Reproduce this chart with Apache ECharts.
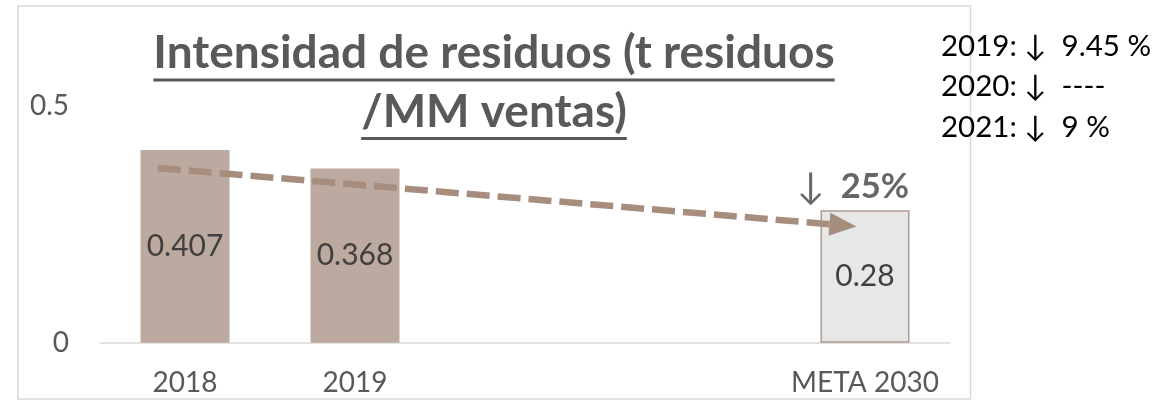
<!DOCTYPE html>
<html>
<head>
<meta charset="utf-8">
<script src="https://cdn.jsdelivr.net/npm/echarts@6/dist/echarts.min.js"></script>
<style>html,body{margin:0;padding:0;background:#fff;}#c{width:1163px;height:403px;}</style>
</head>
<body>
<div id="c"></div>
<script>
// ---- data ----
const categories = ['2018', '2019', '', '', 'META 2030'];
const values = [0.407, 0.368, null, null, 0.28];
const yMin = 0, yMax = 0.5, yInterval = 0.5;
const trendX = [-0.16, 3.87];
const trendY = [0.369, 0.248];
const goalText = '25%';
const notes = ['2019: \u2193  9.45 %', '2020: \u2193  ----', '2021: \u2193  9 %'];
const titleLines = ['Intensidad de residuos (t residuos', '/MM ventas)'];

// ---- styles ----
const FONT = 'Lato, "Noto Sans", sans-serif';
const barColor = '#bcaaa0';
const trendColor = '#a78d7e';
const titleFontSize = 46;

const mctx = document.createElement('canvas').getContext('2d');
function textW(t, font) { mctx.font = font; return mctx.measureText(t).width; }

const titleFont = 'bold ' + titleFontSize + 'px ' + FONT;
const titleCx = 494;
const titleMid = [53, 112];
const underY = [78.5, 137];
const graphics = [
  { type: 'rect', shape: { x: 18, y: 6, width: 952.5, height: 393 }, style: { fill: 'none', stroke: '#d9d9d9', lineWidth: 1.5 }, silent: true, z: -1 }
];
titleLines.forEach((t, i) => {
  const w = textW(t, titleFont);
  graphics.push({ type: 'text', style: { text: t, x: titleCx, y: titleMid[i], font: titleFont, fill: '#595959', align: 'center', verticalAlign: 'middle' } });
  graphics.push({ type: 'rect', shape: { x: titleCx - w / 2, y: underY[i], width: w, height: 3 }, style: { fill: '#595959' } });
});
notes.forEach((t, i) => {
  graphics.push({ type: 'text', style: { text: t, x: 941, y: 46 + 40.5 * i, font: '29.5px ' + FONT, fill: '#000', align: 'left', verticalAlign: 'middle' } });
});

const chart = echarts.init(document.getElementById('c'));
chart.setOption({
  animation: false,
  backgroundColor: '#fff',
  grid: { left: 100, right: 213, top: 106, bottom: 60.3 },
  xAxis: [
    {
      type: 'category', data: categories, boundaryGap: true,
      axisLine: { lineStyle: { color: '#d9d9d9', width: 1.5 } },
      axisTick: { show: false },
      axisLabel: { color: '#595959', fontSize: 28, fontFamily: FONT, margin: 26, interval: 0 }
    },
    { type: 'value', min: -0.5, max: 4.5, show: false }
  ],
  yAxis: {
    type: 'value', min: yMin, max: yMax, interval: yInterval,
    axisLine: { show: false }, axisTick: { show: false }, splitLine: { show: false },
    axisLabel: { color: '#595959', fontSize: 28, fontFamily: FONT, margin: 31 }
  },
  series: [
    {
      type: 'bar', barWidth: 89, xAxisIndex: 0,
      data: values.map((v, i) => i === values.length - 1
        ? { value: v, itemStyle: { color: '#e7e7e7', borderColor: '#ae998d', borderWidth: 1.5 } }
        : { value: v, itemStyle: { color: barColor } }),
      label: { show: true, position: 'inside', color: '#404040', fontSize: 30, fontFamily: FONT },
      emphasis: { disabled: true }
    },
    {
      type: 'scatter', xAxisIndex: 0, symbolSize: 0,
      data: values.map((v, i) => i === values.length - 1 ? v : null),
      label: {
        show: true, position: 'top', distance: 5, offset: [-12, 0],
        formatter: '{a|\u2193}{s|}{b|' + goalText + '}',
        rich: {
          a: { fontSize: 37, fontFamily: FONT, color: '#404040' },
          s: { width: 16 },
          b: { fontSize: 34.5, fontFamily: FONT, fontWeight: 'bold', color: '#404040' }
        }
      },
      emphasis: { disabled: true }, silent: true
    },
    {
      type: 'line', xAxisIndex: 1, data: [], silent: true,
      markLine: {
        silent: true, animation: false,
        symbol: ['none', 'triangle'], symbolSize: [23, 27],
        label: { show: false },
        lineStyle: { color: trendColor, width: 6.5, type: [23, 8] },
        itemStyle: { color: trendColor },
        data: [[{ coord: [trendX[0], trendY[0]] }, { coord: [trendX[1], trendY[1]] }]]
      }
    }
  ],
  graphic: graphics
});
</script>
</body>
</html>
